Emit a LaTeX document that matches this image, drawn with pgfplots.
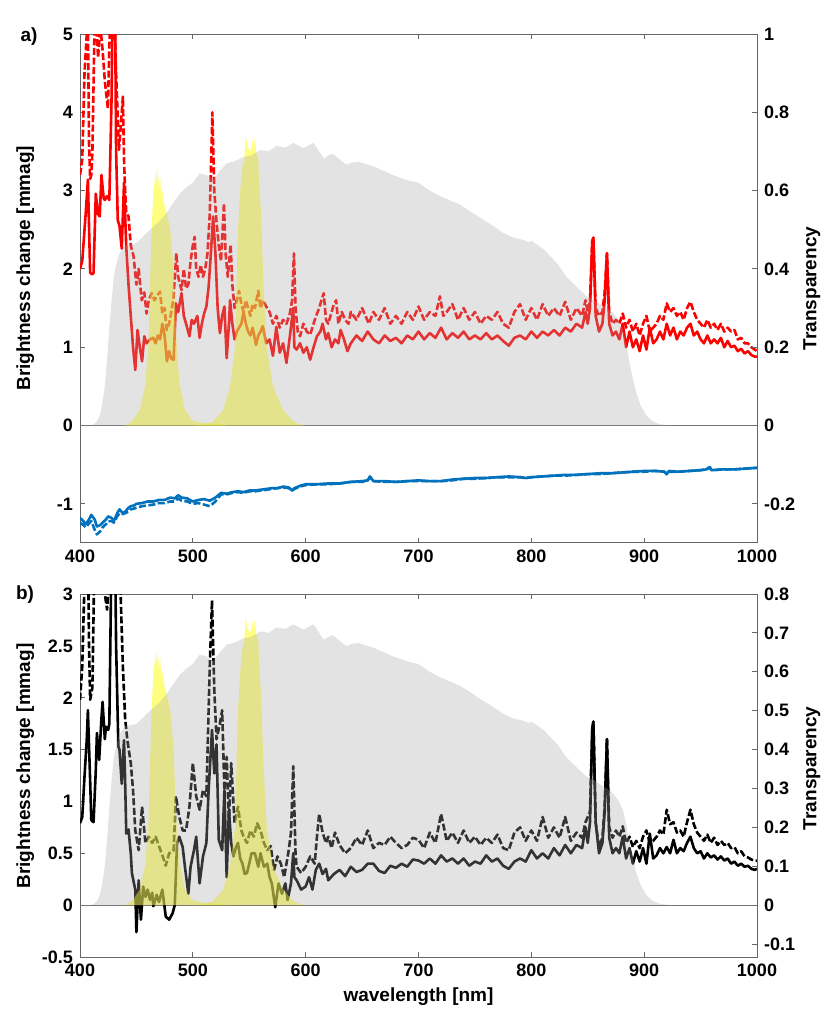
\documentclass[border=0pt]{standalone}
\usepackage{fontspec}
\setmainfont{Liberation Sans}
\usepackage{pgfplots}
\pgfplotsset{compat=1.18}
\usepackage{pgfplotstable}

\definecolor{mblue}{rgb}{0,0.447,0.741}
\definecolor{myel}{rgb}{1,1,0}
\definecolor{mgray}{rgb}{0.65,0.65,0.65}

\pgfplotstableread{
x y
400 2.0
402 2.1
405 2.7
407 3.14
409 1.95
411 1.93
412 1.95
414 2.96
416 2.7
417.5 2.67
419 3.2
421 2.9
422 2.88
424 2.93
426 2.88
428 4.2
429 5.5
431 5.5
432 3.5
433.5 2.62
435 2.55
437 2.26
439 3.1
441 2.28
443 1.8
445 1.4
447 1.0
449 0.71
451 1.22
453 1.0
455 0.82
457 1.14
459 1.05
462 1.1
465 1.12
467 1.05
469 1.15
471 1.1
473 1.3
475 1.15
477 0.82
479 0.95
481 0.85
483 0.84
485 1.56
487 1.45
490 1.69
492 1.4
494 1.3
497 1.14
499 1.35
501 1.3
504 1.4
506 1.12
508 1.3
510 1.43
512 1.52
514 1.77
516 2.2
518 2.67
520 2.2
522 1.5
524 1.18
526 1.4
528 1.52
530 0.86
532 1.3
533 1.6
535 1.3
537 1.1
539 1.2
541 1.25
543 1.3
545 1.45
547 1.3
549 1.2
551 1.15
553 1.25
556 1.03
558 1.15
560 1.2
562 1.27
565 1.05
568 1.1
571 0.89
574 1.26
577 0.93
580 1.05
583 0.8
586 1.14
589 1.5
590 1.0
592 0.97
595 1.05
598 0.93
601 1.0
604 0.84
607 1.0
610 1.14
613 1.2
615 1.3
618 1.1
620 1.18
623 1.0
626 1.1
629 1.05
631 1.22
634 1.1
637 0.95
640 1.05
645 1.15
650 1.08
655 1.2
660 1.1
665 1.05
670 1.15
675 1.08
680 1.12
685 1.05
690 1.15
695 1.1
700 1.2
705 1.1
710 1.18
715 1.12
720 1.25
725 1.1
730 1.18
735 1.12
740 1.2
745 1.1
750 1.15
755 1.1
760 1.18
765 1.1
770 1.15
775 1.08
780 1.02
785 1.12
790 1.15
795 1.1
800 1.2
805 1.12
810 1.2
815 1.15
820 1.22
825 1.15
830 1.25
835 1.2
840 1.3
845 1.25
848 1.45
850 1.3
852 1.5
854 2.35
855 2.4
857 1.4
860 1.2
863 1.3
865 1.6
867 2.2
869 1.3
872 1.15
875 1.2
878 1.1
881 1.3
884 1.0
887 1.2
890 1.0
893 1.1
896 0.95
899 1.15
902 0.97
905 1.25
908 1.05
911 1.1
914 1.2
917 1.1
920 1.3
923 1.15
926 1.25
929 1.1
932 1.2
935 1.15
938 1.25
941 1.3
944 1.15
947 1.2
950 1.1
953 1.05
956 1.15
959 1.05
962 1.1
965 1.05
968 1.12
971 1.0
974 1.08
977 1.0
980 1.02
983 0.95
986 0.98
989 0.92
992 0.95
995 0.9
998 0.88
1000 0.88
}\RS

\pgfplotstableread{
x y
400 3.2
402 3.4
404 4.5
406 5.0
407 5.2
408 3.6
409 3.15
410 3.2
411 3.5
413 5.2
415 5.0
416 4.7
418 5.1
420 4.8
422 4.4
424.7 4.05
426 4.8
427 5.5
430 5.5
432 4.5
434.5 3.52
436 3.8
438 4.2
439 3.4
440 3.0
441 2.72
443 2.67
445 2.3
447.5 2.16
450 1.8
452 2.0
454.7 1.6
457 1.7
459 1.43
461 1.6
463.5 1.69
466 1.6
468 1.65
470.9 1.71
473 1.43
475 1.5
476.8 1.22
479 1.3
482.7 1.6
485.4 2.2
487 1.9
490 1.73
492 2.0
494 1.75
496 1.8
498 2.1
500 2.3
501.6 2.41
503 2.0
505 1.9
507 2.05
509 1.9
511 2.0
513 2.2
515 2.7
517.3 4.0
519 3.0
521 2.6
523 2.3
525 2.1
527.6 2.84
529 2.2
531 1.9
533.5 2.31
535 1.8
537 1.5
539 1.6
541 1.72
543 1.55
545 1.45
547 1.6
549 1.5
551 1.4
553 1.55
555 1.5
558 1.72
560 1.5
562 1.6
565 1.52
568 1.45
571 1.3
574 1.4
577 1.25
580 1.35
583 1.3
586 1.43
588 1.6
589.6 2.2
591 1.5
593 1.2
595 1.14
598 1.3
601 1.2
604 1.16
607 1.3
609 1.39
612 1.5
614 1.6
616 1.69
618 1.35
620 1.3
623 1.45
625 1.55
627 1.6
629 1.3
632 1.45
635 1.35
638 1.3
640 1.45
645 1.35
650 1.5
653 1.4
656 1.3
660 1.45
665 1.35
670 1.5
675 1.3
680 1.4
685 1.3
690 1.45
695 1.35
700 1.52
705 1.35
710 1.45
715 1.4
719 1.65
722 1.4
725 1.45
730 1.55
735 1.35
740 1.5
745 1.35
750 1.45
755 1.3
760 1.4
765 1.35
770 1.45
775 1.3
780 1.25
785 1.45
790 1.55
795 1.35
800 1.5
805 1.35
810 1.55
815 1.4
820 1.5
825 1.4
830 1.58
835 1.35
840 1.5
845 1.4
848 1.6
850 1.45
852 1.6
854 2.35
855 2.4
857 1.5
860 1.4
863 1.45
865 1.7
867 2.2
869 1.45
872 1.3
875 1.35
878 1.3
881 1.43
884 1.25
887 1.35
890 1.2
893 1.3
896 1.15
899 1.3
902 1.4
905 1.2
908 1.25
911 1.3
914 1.4
917 1.35
920 1.56
923 1.45
926 1.5
929 1.4
932 1.45
935 1.35
938 1.5
941 1.58
944 1.45
947 1.35
950 1.3
953 1.25
956 1.35
959 1.25
962 1.3
965 1.22
968 1.3
971 1.2
974 1.25
977 1.2
980 1.22
983 1.1
986 1.12
989 1.05
992 1.05
995 1.0
998 0.97
1000 0.95
}\RD

\pgfplotstableread{
x y
400 -1.18
403 -1.22
405 -1.26
408 -1.2
410 -1.14
413 -1.2
415 -1.29
418 -1.27
420 -1.24
423 -1.2
425 -1.16
428 -1.18
430 -1.22
433 -1.12
435 -1.07
438 -1.12
440 -1.1
443 -1.05
445 -1.03
448 -1.02
450 -1.0
455 -0.99
460 -0.97
465 -0.97
470 -0.95
475 -0.95
480 -0.92
484 -0.93
487 -0.89
490 -0.92
495 -0.93
500 -0.97
505 -0.95
510 -0.94
515 -0.96
520 -0.92
525 -0.86
530 -0.87
535 -0.85
540 -0.84
545 -0.85
550 -0.83
555 -0.83
560 -0.82
565 -0.81
570 -0.8
575 -0.8
580 -0.78
585 -0.79
588 -0.83
590 -0.8
595 -0.77
600 -0.75
610 -0.75
620 -0.74
630 -0.74
640 -0.72
650 -0.71
655 -0.7
657 -0.65
660 -0.71
670 -0.71
680 -0.72
690 -0.71
700 -0.7
710 -0.71
720 -0.71
730 -0.69
740 -0.68
750 -0.67
760 -0.67
770 -0.66
780 -0.65
790 -0.66
795 -0.67
800 -0.66
810 -0.65
820 -0.64
830 -0.63
840 -0.63
850 -0.62
860 -0.61
870 -0.61
880 -0.6
890 -0.59
900 -0.58
910 -0.58
918 -0.59
920 -0.62
922 -0.58
930 -0.59
940 -0.58
950 -0.57
955 -0.56
958 -0.53
960 -0.57
970 -0.56
980 -0.56
990 -0.55
1000 -0.54
}\BS

\pgfplotstableread{
x y
400 -1.24
403 -1.27
405 -1.3
408 -1.25
410 -1.22
413 -1.33
415 -1.39
418 -1.35
420 -1.3
423 -1.26
425 -1.22
428 -1.22
430 -1.24
433 -1.16
435 -1.12
438 -1.13
440 -1.12
443 -1.1
445 -1.07
448 -1.06
450 -1.05
455 -1.03
460 -1.02
465 -1.01
470 -0.99
475 -0.99
480 -0.97
484 -0.97
487 -0.93
490 -0.96
495 -0.97
500 -1.0
505 -0.99
510 -1.01
515 -1.03
520 -0.97
525 -0.88
530 -0.88
535 -0.86
540 -0.85
545 -0.86
550 -0.84
555 -0.84
560 -0.83
565 -0.82
570 -0.81
575 -0.8
580 -0.79
585 -0.8
588 -0.83
590 -0.81
595 -0.78
600 -0.76
610 -0.75
620 -0.75
630 -0.74
640 -0.72
650 -0.72
655 -0.7
657 -0.66
660 -0.71
670 -0.72
680 -0.72
690 -0.71
700 -0.71
710 -0.71
720 -0.71
730 -0.7
740 -0.68
750 -0.68
760 -0.67
770 -0.66
780 -0.66
790 -0.66
795 -0.67
800 -0.66
810 -0.65
820 -0.64
830 -0.64
840 -0.63
850 -0.62
860 -0.62
870 -0.61
880 -0.6
890 -0.59
900 -0.59
910 -0.58
918 -0.59
920 -0.62
922 -0.59
930 -0.59
940 -0.58
950 -0.57
955 -0.56
958 -0.54
960 -0.57
970 -0.56
980 -0.56
990 -0.55
1000 -0.54
}\BD

\pgfplotstableread{
x y
400 0.79
402 0.85
404 1.24
406 1.6
407 1.88
409 1.2
410 0.82
412 0.8
414 1.3
415 1.66
417 1.4
419 1.8
420 1.96
422 1.6
423 1.72
425 1.69
426 1.75
427 2.6
428 3.5
431 3.5
432 2.5
434 1.53
435 1.5
437 1.17
439 1.59
440 1.2
441 0.69
443 0.73
445 0.5
446 0.31
448 0.2
449 0.15
450 -0.26
452 0.24
454 -0.14
456 0.18
458 0.08
460 0.15
462 0.05
464 0.12
465 -0.01
468 0.1
470 0.03
473 0.15
476 -0.11
479 -0.14
482 -0.08
484 0.0
486 0.6
488 0.66
491 0.56
493 0.37
496 0.11
498 0.37
501 0.53
503 0.66
506 0.21
509 0.47
512 0.6
514 1.11
517 1.69
519 1.27
521 1.55
523 0.63
526 0.53
528 1.11
530 0.27
532 0.92
534 0.6
536 0.47
538 0.55
540 0.6
542 0.45
544 0.4
546 0.3
548 0.31
550 0.4
552 0.5
555 0.5
558 0.37
560 0.5
563 0.37
566 0.4
568 0.27
570 0.21
573 -0.02
576 0.21
579 0.11
582 0.21
584 0.05
587 0.21
589 0.5
590 0.27
592 0.24
596 0.15
600 0.18
603 0.27
606 0.15
609 0.34
612 0.4
615 0.3
618 0.35
620 0.24
625 0.3
630 0.34
635 0.28
640 0.37
645 0.32
650 0.34
655 0.4
660 0.4
665 0.33
670 0.31
675 0.38
680 0.36
685 0.4
690 0.37
695 0.44
700 0.43
705 0.4
710 0.45
715 0.4
720 0.48
725 0.42
730 0.45
735 0.4
740 0.45
745 0.38
750 0.42
755 0.4
760 0.48
765 0.42
770 0.45
775 0.38
780 0.35
785 0.42
790 0.45
795 0.42
800 0.53
805 0.45
810 0.5
815 0.45
820 0.55
825 0.48
830 0.58
835 0.5
840 0.58
845 0.55
848 0.75
850 0.6
852 0.8
854 1.7
855 1.77
857 0.8
860 0.5
863 0.6
865 0.9
867 1.6
869 0.65
872 0.5
875 0.55
878 0.5
881 0.66
884 0.45
887 0.55
890 0.4
893 0.52
896 0.42
899 0.55
902 0.4
905 0.69
908 0.45
911 0.48
914 0.55
917 0.5
920 0.56
923 0.5
926 0.63
929 0.5
932 0.55
935 0.52
938 0.6
941 0.66
944 0.55
947 0.5
950 0.52
953 0.45
956 0.5
959 0.46
962 0.48
965 0.44
968 0.47
971 0.43
974 0.45
977 0.4
980 0.42
983 0.38
986 0.4
989 0.37
992 0.38
995 0.35
998 0.34
1000 0.35
}\KS

\pgfplotstableread{
x y
400 1.98
402 2.3
403 2.72
405 3.5
407 3.5
408 2.5
409 1.98
411 2.1
413 3.5
420 3.5
422 3.0
424 2.85
426 3.2
427 3.5
434 3.5
436 3.0
438 2.3
440 1.8
442 1.59
445 1.37
447 1.11
449 0.72
452 0.53
455 0.95
458 0.6
461 0.66
464 0.6
467 0.66
470 0.57
473 0.48
476 0.38
479 0.5
483 0.53
485 1.05
488 0.85
491 0.72
494 0.72
497 0.95
500 1.37
503 1.05
506 0.92
509 1.11
512 1.05
515 2.3
517 2.94
519 2.08
521 1.6
524 1.75
526 1.88
528 1.11
530 1.43
532 0.79
534 1.37
537 0.79
540 0.95
543 0.72
545 0.66
548 0.6
551 0.72
554 0.66
557 0.79
560 0.72
563 0.6
566 0.53
569 0.57
572 0.34
575 0.47
578 0.4
581 0.27
585 0.53
587 0.7
589 1.34
591 0.5
592 0.37
596 0.31
600 0.37
604 0.47
608 0.4
610 0.66
612 0.88
615 0.7
618 0.6
620 0.66
623 0.55
626 0.7
630 0.58
635 0.5
640 0.55
645 0.65
650 0.58
655 0.72
660 0.55
665 0.6
670 0.58
675 0.66
680 0.6
685 0.55
690 0.58
695 0.65
700 0.63
705 0.55
710 0.7
715 0.6
720 0.88
725 0.62
730 0.7
735 0.6
740 0.72
745 0.6
750 0.66
755 0.58
760 0.65
765 0.6
770 0.68
775 0.55
780 0.53
785 0.7
790 0.75
795 0.62
800 0.72
805 0.62
810 0.85
815 0.65
820 0.75
825 0.65
830 0.85
835 0.62
840 0.7
845 0.65
848 0.8
850 0.85
852 0.9
854 1.7
855 1.77
857 0.8
860 0.56
863 0.65
865 0.95
867 1.6
869 0.75
872 0.65
875 0.72
878 0.66
881 0.76
884 0.6
887 0.66
890 0.56
893 0.62
896 0.55
899 0.66
902 0.72
905 0.6
908 0.62
911 0.66
914 0.72
917 0.68
920 0.92
923 0.78
926 0.8
929 0.7
932 0.72
935 0.66
938 0.8
941 0.92
944 0.78
947 0.7
950 0.66
953 0.62
956 0.68
959 0.6
962 0.65
965 0.58
968 0.62
971 0.58
974 0.6
977 0.55
980 0.56
983 0.5
986 0.52
989 0.47
992 0.46
995 0.44
998 0.43
1000 0.43
}\KD

\pgfplotstableread{
x t
400 0
410 0
413 0.005
416 0.015
418 0.03
420 0.06
422 0.1
424 0.17
426 0.25
428 0.32
430 0.38
432 0.41
435 0.44
440 0.46
445 0.463
450 0.466
455 0.48
462 0.50
470 0.52
477 0.544
483 0.57
489 0.594
495 0.61
500 0.62
506 0.644
512 0.64
518 0.628
524 0.65
530 0.67
537 0.675
545 0.686
552 0.69
560 0.704
567 0.70
574 0.714
582 0.71
589 0.722
594 0.715
598 0.708
603 0.716
607 0.722
612 0.70
616 0.682
620 0.69
624 0.694
630 0.68
636 0.666
641 0.672
647 0.674
653 0.668
660 0.662
668 0.652
677 0.64
685 0.632
692 0.625
700 0.62
710 0.60
719 0.586
728 0.575
737 0.564
747 0.545
757 0.526
766 0.51
775 0.492
784 0.48
793 0.474
798 0.468
800 0.472
805 0.462
811 0.45
817 0.432
824 0.41
831 0.38
840 0.355
849 0.33
856 0.32
861 0.31
867 0.30
872 0.288
877 0.27
881 0.246
884 0.21
887 0.16
890 0.12
893 0.084
897 0.05
902 0.026
907 0.012
913 0.004
920 0.001
925 0
1000 0
}\GT

\pgfplotstableread{
x t
440 0
446 0.01
453 0.04
457.6 0.1
460.6 0.2
462 0.36
463.5 0.5
465 0.6
466 0.62
467 0.65
468 0.62
469 0.66
470 0.6
471 0.64
472 0.58
473 0.6
475 0.56
477 0.54
480 0.5
483 0.4
485 0.24
488 0.11
493 0.04
500 0.012
510 0.006
520 0.004
528 0.002
530 0
}\YA

\pgfplotstableread{
x t
500 0
510 0.002
518 0.01
527 0.04
533 0.1
537.4 0.2
538.8 0.37
540 0.5
542 0.6
544 0.66
545.6 0.68
547 0.74
548 0.72
549 0.71
551 0.70
552 0.71
553 0.73
554 0.70
555 0.74
556 0.7
557 0.69
558 0.68
559 0.6
560.5 0.54
562.5 0.37
565.5 0.2
571 0.1
580 0.04
589 0.01
598 0
}\YB

\pgfplotsset{
  myax/.style={
    scale only axis, width=338.5pt,
    xmin=400, xmax=1000,
    axis line style={draw=black!60, line width=0.5pt},
    tick style={draw=black!60, line width=0.5pt},
    major tick length=2.5pt, tick align=inside,
    /pgf/number format/assume math mode=true,
    /pgf/number format/fixed,
    /pgf/number format/set thousands separator={},
    tick label style={font=\fontsize{9}{10}\selectfont\bfseries, text=black},
    label style={font=\fontsize{9.5}{11}\selectfont\bfseries, text=black},
    every axis plot/.append style={line join=round},
  },
  leftax/.style={myax,
    xtick={400,500,...,1000}, ytick pos=left, xtick pos=both,
  },
  rightax/.style={myax,
    axis y line*=right, axis x line=none,
  },
  gfill/.style={fill=mgray, fill opacity=0.31, draw=none},
  yfill/.style={fill=myel, fill opacity=0.5, draw=none},
}

\begin{document}
\begin{tikzpicture}
\path[use as bounding box] (0,0) rectangle (415pt,-509.5pt);

% ---------- panel a ----------
\begin{axis}[leftax, at={(40pt,-17pt)}, anchor=north west, height=254.5pt,
  ymin=-1.5, ymax=5, ytick={-1,0,1,2,3,4,5},
  ylabel={Brightness change [mmag]},
  ylabel style={at={(axis description cs:-0.081,0.54)}, anchor=center}]
\addplot[black!55, line width=0.5pt, forget plot] coordinates {(400,0) (1000,0)};
\addplot[red, line width=1.3pt, dash pattern=on 3.5pt off 1.3pt] table[x=x,y=y] {\RD};
\addplot[red, line width=1.3pt] table[x=x,y=y] {\RS};
\addplot[mblue, line width=1.3pt, dash pattern=on 3.5pt off 1.3pt] table[x=x,y=y] {\BD};
\addplot[mblue, line width=1.3pt] table[x=x,y=y] {\BS};
\end{axis}
\begin{axis}[rightax, at={(40pt,-17pt)}, anchor=north west, height=254.5pt,
  ymin=-0.3, ymax=1, ytick={-0.2,0,0.2,0.4,0.6,0.8,1},
  ylabel={Transparency},
  ylabel style={at={(axis description cs:1.081,0.5)}, anchor=center}]
\addplot[yfill] table[x=x,y=t] {\YA};
\addplot[yfill] table[x=x,y=t] {\YB};
\addplot[gfill] table[x=x,y=t] {\GT};
\end{axis}

% ---------- panel b ----------
\begin{axis}[leftax, at={(40pt,-297pt)}, anchor=north west, height=181.5pt,
  ymin=-0.5, ymax=3, ytick={-0.5,0,0.5,1,1.5,2,2.5,3},
  ylabel={Brightness change [mmag]},
  ylabel style={at={(axis description cs:-0.081,0.526)}, anchor=center},
  xlabel={wavelength [nm]},
  xlabel style={at={(axis description cs:0.5,-0.11)}, anchor=center}]
\addplot[black!55, line width=0.5pt, forget plot] coordinates {(400,0) (1000,0)};
\addplot[black, line width=1.3pt, dash pattern=on 3.5pt off 1.3pt] table[x=x,y=y] {\KD};
\addplot[black, line width=1.3pt] table[x=x,y=y] {\KS};
\end{axis}
\begin{axis}[rightax, at={(40pt,-297pt)}, anchor=north west, height=181.5pt,
  ymin=-0.13333, ymax=0.8, ytick={-0.1,0,0.1,0.2,0.3,0.4,0.5,0.6,0.7,0.8},
  ylabel={Transparency},
  ylabel style={at={(axis description cs:1.081,0.52)}, anchor=center}]
\addplot[yfill] table[x=x,y=t] {\YA};
\addplot[yfill] table[x=x,y=t] {\YB};
\addplot[gfill] table[x=x,y=t] {\GT};
\end{axis}

\node[font=\fontsize{9.5}{11}\selectfont\bfseries] at (14.5pt,-18.5pt) {a)};
\node[font=\fontsize{9.5}{11}\selectfont\bfseries] at (12.5pt,-297.5pt) {b)};
\end{tikzpicture}
\end{document}
